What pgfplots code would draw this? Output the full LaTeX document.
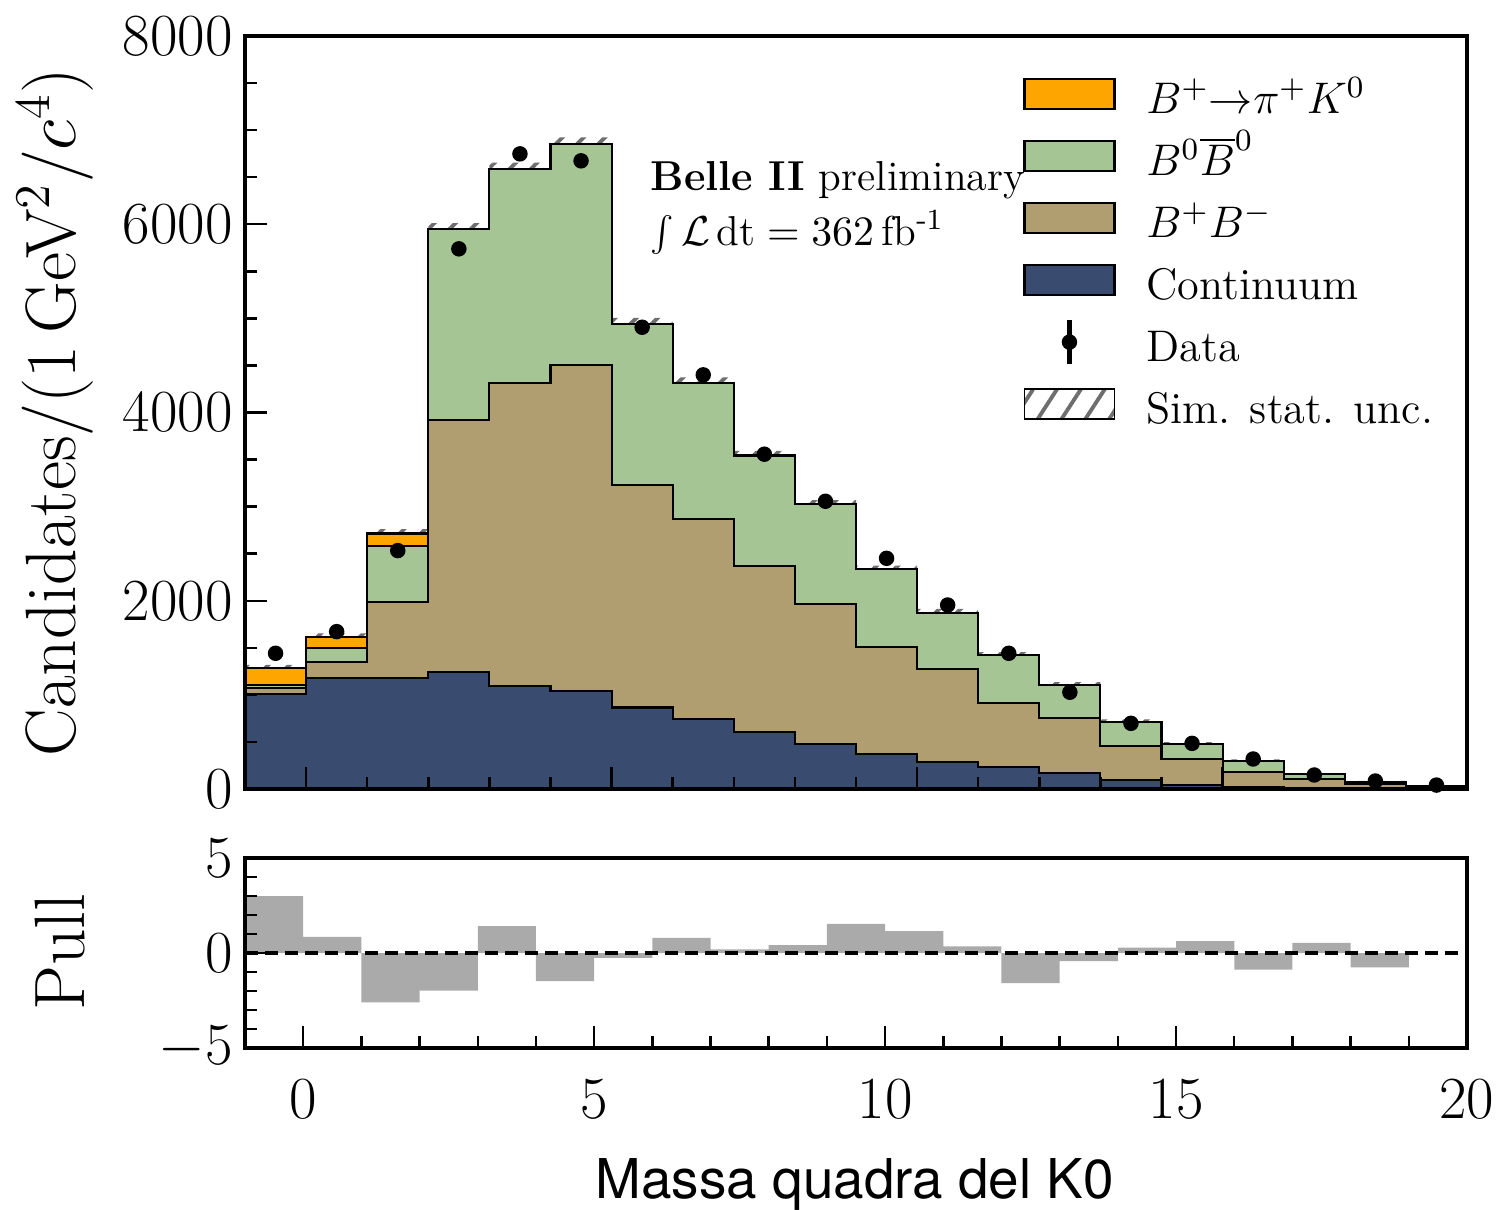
\RequirePackage{fix-cm}
\documentclass[border=0pt]{standalone}
\usepackage{fontspec}
\usepackage{pgfplots}
\usepackage{pgfplotstable}
\pgfplotsset{compat=1.18}
\usepgfplotslibrary{fillbetween}
\usetikzlibrary{patterns.meta}
\newfontfamily\helv{TeX Gyre Heros}

\definecolor{sigorange}{RGB}{255,165,0}
\definecolor{bbgreen}{RGB}{165,198,148}
\definecolor{chtan}{RGB}{176,158,112}
\definecolor{contnavy}{RGB}{57,75,110}
\definecolor{pullgray}{RGB}{170,170,170}
\definecolor{hatchgray}{RGB}{110,110,110}

% upper panel bins: left edge, yields per component, sim. stat. uncertainty
% (last row repeats the last bin to close the step at x = 19)
\pgfplotstableread{
x   cont bpbm b0b0 sig unc
-1  1005   65   35 178 35
0   1183  170  147 119 35
1   1183  808  591 133 45
2   1240 2681 2027   0 65
3   1095 3216 2273   0 70
4   1041 3467 2346   0 70
5    866 2365 1714   0 60
6    747 2122 1449   0 55
7    602 1771 1170   0 50
8    478 1488 1059   0 45
9    372 1140  822   0 40
10   283  989  602   0 40
11   230  681  509   0 35
12   167  591  347   0 30
13    96  361  259   0 25
14    42  273  163   0 20
15    20  164  117   0 15
16     8   98   53   0 10
17     4   46   28   0  8
18     2   16   14   0  6
19     2   16   14   0  6
}\hist

% data counts at bin centres
\pgfplotstableread{
x    n
-0.5 1442
0.5  1672
1.5  2533
2.5  5739
3.5  6748
4.5  6674
5.5  4906
6.5  4400
7.5  3557
8.5  3057
9.5  2451
10.5 1955
11.5 1442
12.5 1028
13.5  698
14.5  485
15.5  319
16.5  149
17.5   85
18.5   42
}\data

% pulls, left bin edges
\pgfplotstableread{
x  pull
-1  3.00
0   0.85
1  -2.60
2  -1.98
3   1.41
4  -1.48
5  -0.25
6   0.80
7   0.19
8   0.42
9   1.54
10  1.15
11  0.35
12 -1.59
13 -0.42
14  0.28
15  0.62
16 -0.88
17  0.53
18 -0.76
19 -0.76
}\pulls

\pgfplotsset{
  panel/.style={
    scale only axis, width=12.22cm,
    axis on top,
    axis line style={line width=0.9pt},
    tick pos=left, tick align=inside,
    major tick length=0.22cm, minor tick length=0.12cm,
    every tick/.style={black, line width=0.7pt},
    tick label style={font=\fontsize{17}{20}\selectfont},
    /pgf/number format/1000 sep={},
  },
  layer/.style={const plot, draw=black, line width=0.6pt, forget plot},
  swatch/.style={legend image code/.code={\draw[fill=#1, draw=black, line width=0.6pt] (0cm,-0.09cm) rectangle (0.9cm,0.21cm);}},
}

\begin{document}
\begin{tikzpicture}

\begin{axis}[panel,
  at={(2.45cm,-7.89cm)}, anchor=south west, height=7.53cm,
  xmin=-1, xmax=19, ymin=0, ymax=8000,
  xtick={0,5,10,15}, xticklabels={}, minor x tick num=4,
  ytick={0,2000,4000,6000,8000}, minor y tick num=3,
  ylabel={Candidates/(1\,GeV$^{2}$/$c^{4}$)},
  ylabel style={at={(axis description cs:-0.1555,0.5)}, anchor=center, font=\fontsize{20.3}{24}\selectfont},
  legend style={at={(axis description cs:0.6357,0.957)}, anchor=north west,
    draw=none, fill=none, inner sep=0pt, row sep=0pt,
    font=\fontsize{12.6}{15}\selectfont,
    nodes={inner ysep=0pt, text height=0.44cm, text depth=0.18cm},
    /tikz/every odd column/.append style={column sep=0.23cm}},
  legend cell align=left,
]
% stacked components, painted from the total downwards
\addplot[layer, fill=sigorange] table[x=x, y expr=\thisrow{cont}+\thisrow{bpbm}+\thisrow{b0b0}+\thisrow{sig}] {\hist} \closedcycle;
\addplot[layer, fill=bbgreen] table[x=x, y expr=\thisrow{cont}+\thisrow{bpbm}+\thisrow{b0b0}] {\hist} \closedcycle;
\addplot[layer, fill=chtan] table[x=x, y expr=\thisrow{cont}+\thisrow{bpbm}] {\hist} \closedcycle;
\addplot[layer, fill=contnavy] table[x=x, y=cont] {\hist} \closedcycle;

% simulation statistical uncertainty band around the total
\addplot[const plot, draw=none, name path=hi, forget plot] table[x=x, y expr=\thisrow{cont}+\thisrow{bpbm}+\thisrow{b0b0}+\thisrow{sig}+\thisrow{unc}] {\hist};
\addplot[const plot, draw=none, name path=lo, forget plot] table[x=x, y expr=\thisrow{cont}+\thisrow{bpbm}+\thisrow{b0b0}+\thisrow{sig}-\thisrow{unc}] {\hist};
\addplot[draw=none, pattern={Lines[angle=45, distance=0.15cm, line width=1.1pt]}, pattern color=hatchgray, forget plot] fill between[of=hi and lo];

% data
\addplot[only marks, mark=*, mark size=2pt, black, forget plot] table[x=x, y=n] {\data};

\node[anchor=base west, inner sep=0pt, font=\fontsize{11.9}{14}\selectfont] at (axis description cs:0.3314,0.7955) {\textbf{Belle II} preliminary};
\node[anchor=base west, inner sep=0pt, font=\fontsize{11.9}{14}\selectfont] at (axis description cs:0.3314,0.7224) {$\int\mathcal{L}\,\mathrm{dt}=362\,\mathrm{fb}$\textsuperscript{-1}};

\addlegendimage{swatch=sigorange}
\addlegendentry{$B^{+}{\rightarrow}\pi^{+}K^{0}$}
\addlegendimage{swatch=bbgreen}
\addlegendentry{$B^{0}\overline{B}^{0}$}
\addlegendimage{swatch=chtan}
\addlegendentry{$B^{+}B^{-}$}
\addlegendimage{swatch=contnavy}
\addlegendentry{Continuum}
\addlegendimage{legend image code/.code={\draw[line width=1.6pt] (0.45cm,-0.16cm) -- (0.45cm,0.28cm); \fill (0.45cm,0.06cm) circle (2pt);}}
\addlegendentry{Data}
\addlegendimage{legend image code/.code={\fill[pattern={Lines[angle=57, distance=0.2cm, line width=1.1pt]}, pattern color=hatchgray] (0cm,-0.09cm) rectangle (0.9cm,0.21cm);}}
\addlegendentry{Sim. stat. unc.}
\end{axis}

\begin{axis}[panel,
  at={(2.45cm,-10.48cm)}, anchor=south west, height=1.90cm,
  xmin=-1, xmax=20, ymin=-5, ymax=5,
  xtick={0,5,10,15,20}, minor x tick num=4,
  ytick={-5,0,5}, minor y tick num=4,
  xticklabel style={yshift=-0.2cm},
  ylabel={Pull},
  ylabel style={at={(axis description cs:-0.151,0.505)}, anchor=center, font=\fontsize{20.3}{24}\selectfont},
  xlabel={Massa quadra del K0},
  xlabel style={at={(axis description cs:0.499,-0.79)}, anchor=base, inner sep=0pt, font=\helv\fontsize{15.6}{18}\selectfont},
]
\addplot[const plot, fill=pullgray, draw=none] table[x=x, y=pull] {\pulls} \closedcycle;
\addplot[black, line width=0.9pt, dash pattern=on 0.13cm off 0.07cm] coordinates {(-1,0) (20,0)};
\end{axis}

\pgfresetboundingbox
\useasboundingbox (0,0) rectangle (14.99cm,-12.09cm);
\end{tikzpicture}
\end{document}
